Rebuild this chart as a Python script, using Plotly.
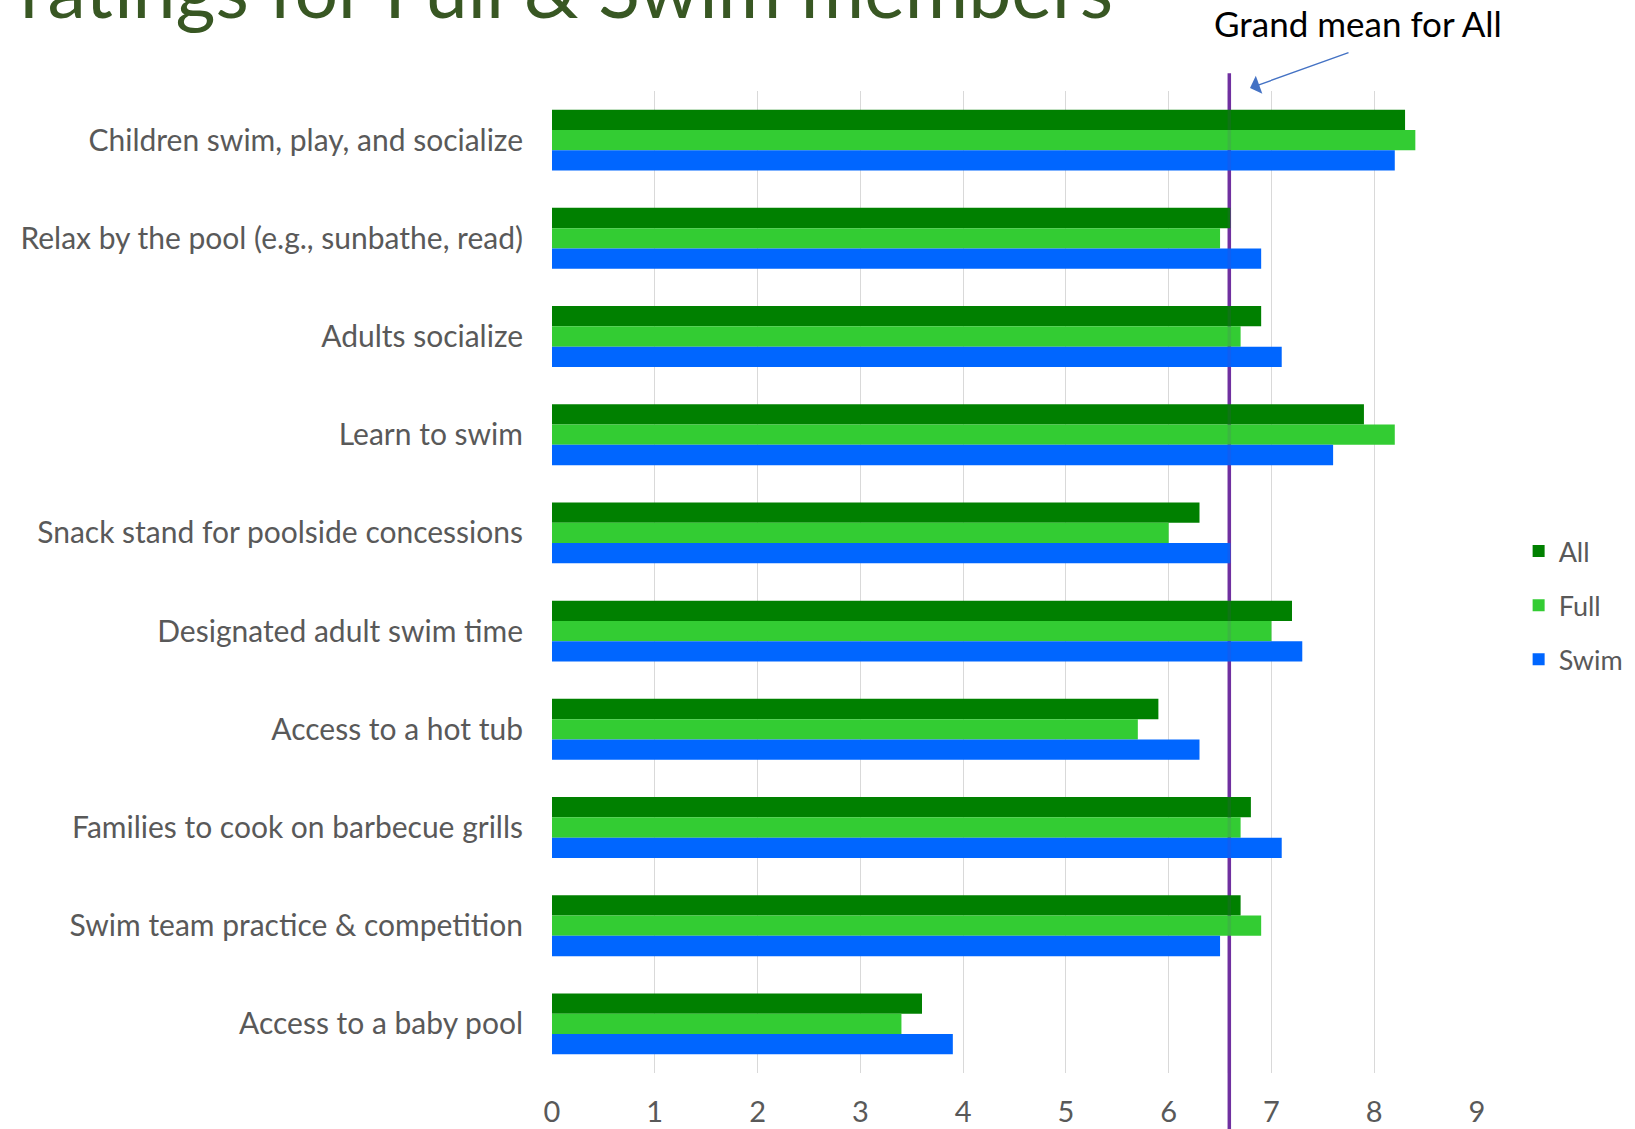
import plotly.graph_objects as go

# Ratings (0-9 scale)
CATEGORIES = [
    'Children swim, play, and socialize',
    'Relax by the pool (e.g., sunbathe, read)',
    'Adults socialize',
    'Learn to swim',
    'Snack stand for poolside concessions',
    'Designated adult swim time',
    'Access to a hot tub',
    'Families to cook on barbecue grills',
    'Swim team practice & competition',
    'Access to a baby pool',
]

ALL = [8.3, 6.6, 6.9, 7.9, 6.3, 7.2, 5.9, 6.8, 6.7, 3.6]
FULL = [8.4, 6.5, 6.7, 8.2, 6.0, 7.0, 5.7, 6.7, 6.9, 3.4]
SWIM = [8.2, 6.9, 7.1, 7.6, 6.6, 7.3, 6.3, 7.1, 6.5, 3.9]

# grand mean of All, as marked on the chart
GRAND_MEAN = 6.59

SERIES_NAMES = ['All', 'Full', 'Swim']
COLORS = ['#008000', '#33CC33', '#0066FF']

X_TICKS = [0, 1, 2, 3, 4, 5, 6, 7, 8, 9]

TITLE = 'ratings for Full & Swim members'
MEAN_LABEL = 'Grand mean for All'

FONT = 'Lato'
GREY = '#595959'
PURPLE = '#7030A0'


def plot_result():

    fig = go.Figure()

    for name, vals, color in zip(SERIES_NAMES, [ALL, FULL, SWIM], COLORS):
        fig.add_trace(
            go.Bar(
                y = CATEGORIES,
                x = vals,
                name = name,
                orientation = 'h',
                marker = {'color': color, 'line': {'width': 0}},
                legendgroup = name,
            )
        )

    # vertical line at the grand mean, behind the bars
    fig.add_shape(
        type = 'line',
        xref = 'x',
        yref = 'paper',
        x0 = GRAND_MEAN,
        x1 = GRAND_MEAN,
        y0 = -0.06,
        y1 = 1.018,
        line = {'color': PURPLE, 'width': 3.5},
        layer = 'between',
    )
    # faint copy on top, the bars let a bit of the line through
    fig.add_shape(
        type = 'line',
        xref = 'x',
        yref = 'paper',
        x0 = GRAND_MEAN,
        x1 = GRAND_MEAN,
        y0 = 0,
        y1 = 1,
        line = {'color': PURPLE, 'width': 3.5},
        opacity = 0.12,
        layer = 'above',
    )

    fig.add_annotation(
        text = MEAN_LABEL,
        xref = 'paper',
        yref = 'paper',
        x = 0.871,
        y = 1.069,
        showarrow = False,
        font = {'family': FONT, 'size': 35, 'color': 'black'},
        xanchor = 'center',
        yanchor = 'middle',
    )

    fig.add_annotation(
        text = '',
        xref = 'paper',
        yref = 'paper',
        x = 0.7546,
        y = 1.003,
        ax = 100,
        ay = -36,
        showarrow = True,
        arrowhead = 1,
        arrowsize = 2.3,
        arrowwidth = 1.4,
        arrowcolor = '#4472C4',
    )

    # big title, cut off at the top of the page like the original slide
    fig.add_annotation(
        text = TITLE,
        xref = 'paper',
        yref = 'paper',
        x = -0.577,
        y = 1.056,
        showarrow = False,
        font = {'family': FONT, 'size': 77, 'color': '#385723', 'weight': 400},
        xanchor = 'left',
        yanchor = 'bottom',
    )

    fig.update_xaxes(
        range = [0, 9],
        tickvals = X_TICKS,
        showgrid = True,
        gridcolor = '#D9D9D9',
        gridwidth = 1.3,
        zeroline = False,
        showline = False,
        ticks = '',
        ticklabelstandoff = 19,
        tickfont = {'family': FONT, 'size': 29, 'color': GREY},
        automargin = False,
    )

    fig.update_yaxes(
        autorange = 'reversed',
        showgrid = False,
        zeroline = False,
        showline = False,
        ticks = '',
        ticklabelstandoff = 28,
        tickfont = {'family': FONT, 'size': 30, 'color': GREY},
        automargin = False,
    )

    fig.update_layout(
        template = 'none',
        width = 1635,
        height = 1129,
        barmode = 'group',
        bargap = 0.38,
        bargroupgap = 0,
        plot_bgcolor = 'white',
        paper_bgcolor = 'white',
        margin = {'l': 552, 'r': 158, 't': 91, 'b': 56, 'autoexpand': False},
        legend = {
            'x': 1.045,
            'y': 0.476,
            'xanchor': 'left',
            'yanchor': 'middle',
            'traceorder': 'grouped',
            'tracegroupgap': 16,
            'font': {'family': FONT, 'size': 27, 'color': GREY},
            'bgcolor': 'rgba(0,0,0,0)',
        },
    )

    # drop the default body margin so the figure sits at the page corner
    fig.write_html(
        'out.html',
        config = {'displayModeBar': False},
        post_script = "document.body.style.margin = '0';",
    )


if __name__ == '__main__':
    plot_result()
